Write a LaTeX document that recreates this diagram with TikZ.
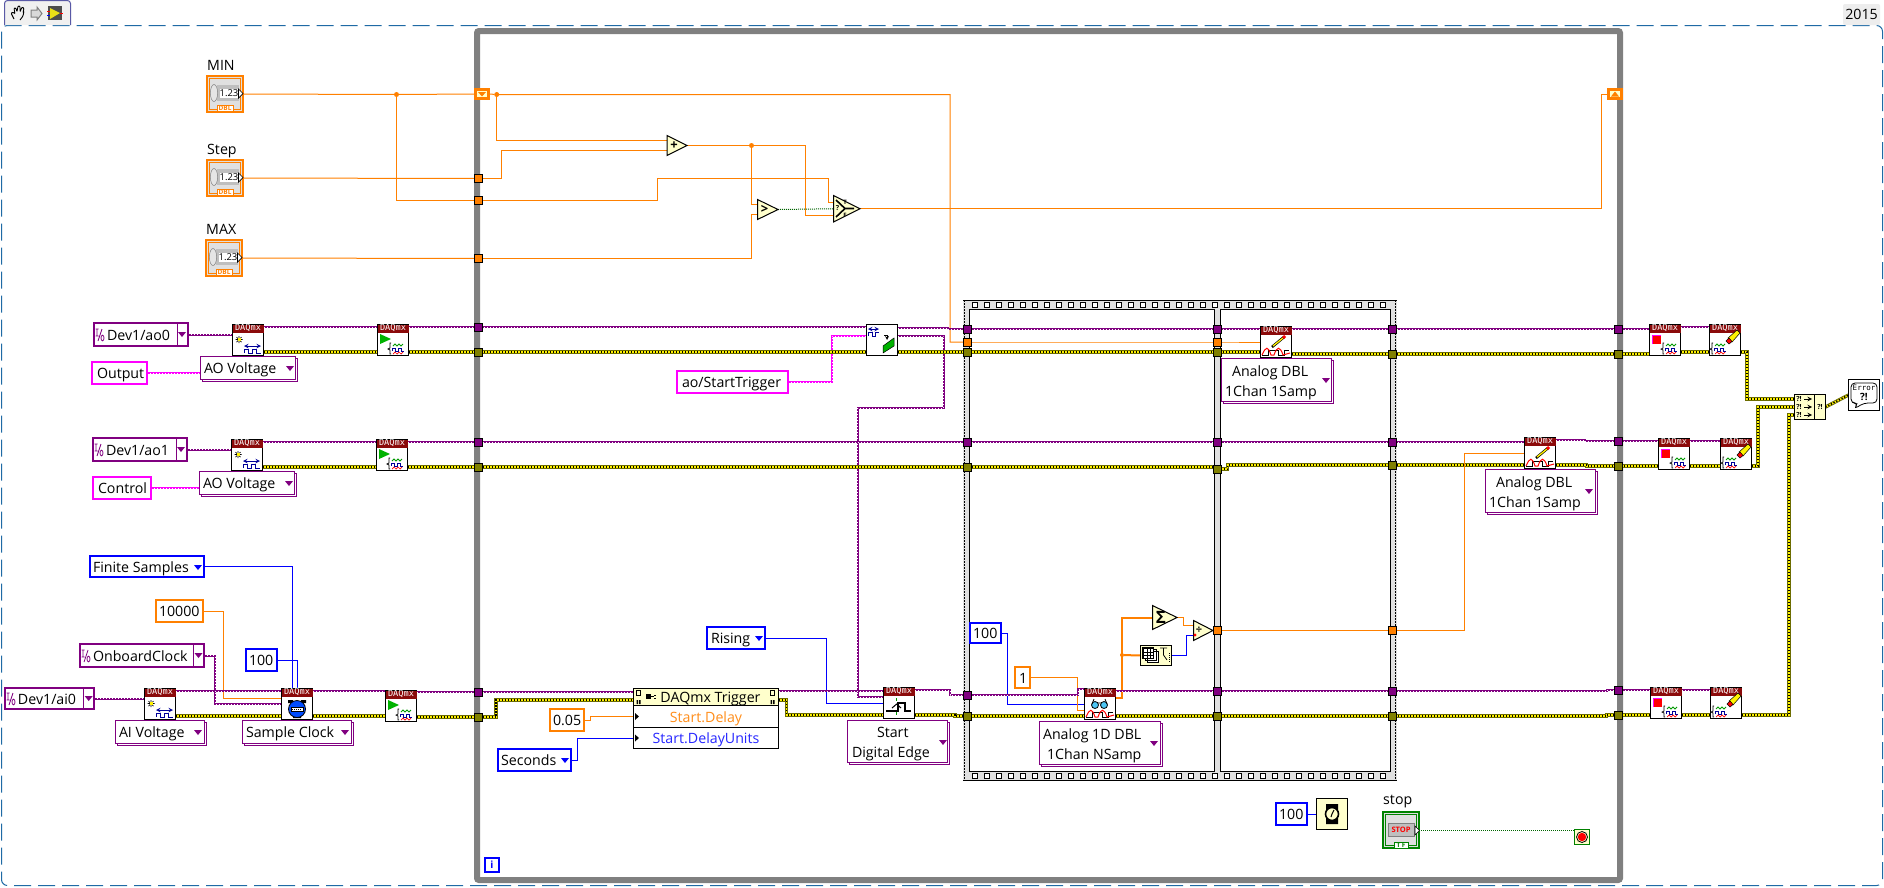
\documentclass[tikz,border=0pt]{standalone}
\usepackage{fontspec}
\setmainfont{Open Sans}
\newfontfamily\daqfam{DejaVu Sans Mono}
\usetikzlibrary{calc}
\pgfdeclarelayer{st}\pgfdeclarelayer{wr}\pgfsetlayers{st,wr,main}
\definecolor{wor}{HTML}{FF8000}\definecolor{wbl}{HTML}{0000FF}\definecolor{wvi}{HTML}{800080}
\definecolor{wpk}{HTML}{FF00FF}\definecolor{wol}{HTML}{808000}\definecolor{wgr}{HTML}{006400}
\definecolor{frm}{HTML}{1F6AA5}\definecolor{lpg}{HTML}{808080}\definecolor{daq}{HTML}{8B0A0A}
\definecolor{pale}{HTML}{FFFFCC}\definecolor{sgr}{HTML}{E0E0E0}
\tikzset{
 wdbl/.style={draw=wor,line width=1pt},
 wdblt/.style={draw=wor,line width=2pt},
 wblue/.style={draw=wbl,line width=1pt},
 wtask/.style={draw=wvi,line width=2pt,postaction={draw=white,line width=.7pt,dash pattern=on 1pt off 2pt}},
 wpink/.style={draw=wpk,line width=2pt,postaction={draw=white,line width=.7pt,dash pattern=on 1pt off 2pt}},
 werr/.style={draw=wol!85!black,line width=3.4pt,line join=miter,postaction={draw=yellow,line width=1.6pt},postaction={draw=black,line width=1.6pt,dash pattern=on 1.3pt off 1.7pt}},
 wbool/.style={draw=wgr,line width=1pt,dash pattern=on 1pt off 1pt},
 vi/.style={draw=black,line width=1pt,fill=white,minimum size=31pt,inner sep=0,outer sep=0},
 tun/.style={draw=black,line width=1pt,minimum size=8pt,inner sep=0,outer sep=0},
 tuo/.style={tun,fill=wor},tuv/.style={tun,fill=wvi},tue/.style={tun,fill=wol},
 jdot/.style={circle,fill=wor,minimum size=5pt,inner sep=0,outer sep=0},
 cfont/.style={font=\fontsize{14.2}{20}\selectfont,text=black},
 single/.style={text height=13pt,text depth=2pt},
 lab/.style={font=\fontsize{14.2}{18}\selectfont,anchor=base west,inner sep=0,text=black},
 prim/.style={draw=black,line width=1pt,fill=pale},
 sr/.style={draw=wor,line width=3pt,fill=pale,minimum width=13pt,minimum height=9pt,inner sep=0,outer sep=0},
}
% box constant: colour,name,x1,y1,x2,y2,textx,text
\newcommand\cst[8]{\pgfmathsetmacro\WW{#5-#3-2}\pgfmathsetmacro\HH{#6-#4-2}\pgfmathsetmacro\SS{#7-#3-1}%
 \node[draw=#1,fill=white,line width=2pt,cfont,single,inner sep=0,outer sep=0,minimum width=\WW pt,minimum height=\HH pt] (#2) at ({(#3+#5)/2},{(#4+#6)/2}) {\makebox[\WW pt][l]{\hspace*{\SS pt}#8}};}
% ring: name,x1,y1,x2,y2,textx,text
\newcommand\rng[7]{\pgfmathsetmacro\WW{#4-#2-3}\pgfmathsetmacro\HH{#5-#3-3}\pgfmathsetmacro\SS{#6-#2-.5}%
 \draw[wvi,fill=white,line width=1pt] ({#2+2.5},{#3+2.5}) rectangle ({#4-.5},{#5-.5});
 \node[draw=wvi,fill=white,line width=1pt,cfont,single,inner sep=0,outer sep=0,minimum width=\WW pt,minimum height=\HH pt] (#1) at ({(#2+#4)/2-1},{(#3+#5)/2-1}) {\makebox[\WW pt][l]{\hspace*{\SS pt}#7}};}
% two-line ring: name,x1,y1,x2,y2,tx1,l1,tx2,l2
\newcommand\rngt[9]{\pgfmathsetmacro\WW{#4-#2-3}\pgfmathsetmacro\HH{#5-#3-3}\pgfmathsetmacro\SS{#6-#2-.5}\pgfmathsetmacro\ST{#8-#2-.5}%
 \draw[wvi,fill=white,line width=1pt] ({#2+2.5},{#3+2.5}) rectangle ({#4-.5},{#5-.5});
 \node[draw=wvi,fill=white,line width=1pt,cfont,inner sep=0,outer sep=0,minimum width=\WW pt,minimum height=\HH pt] (#1) at ({(#2+#4)/2-1},{(#3+#5)/2-1}) {\parbox[c][\HH pt][c]{\WW pt}{\vspace*{5pt}\baselineskip=20pt\hspace*{\SS pt}#7\\\hspace*{\ST pt}#9}};}
\newcommand\ddn[3]{\fill[#3] ({#1-4},{#2-2}) -- ({#1+4},{#2-2}) -- ({#1},{#2+3}) -- cycle;}
\newcommand\sepv[3]{\draw[wvi,line width=1pt] (#1,#2) -- (#1,#3);}
\newcommand\iog[2]{\begin{scope}[shift={(#1,#2)}]\draw[wvi,line width=.8pt] (1,-6) -- (1,1) (-0.5,-6)--(2.5,-6) (-0.5,1)--(2.5,1) (6,-6)--(2,6);\draw[wvi,line width=.8pt] (6.5,3) ellipse (1.5pt and 2.8pt);\end{scope}}
% icon
\newcommand\iconn[3]{\node[vi] (#1) at ({#2+16},{#3+16}) {};
 \coordinate (#1ti) at ({#2},{#3+3}); \coordinate (#1to) at ({#2+32},{#3+3});
 \coordinate (#1ei) at ({#2},{#3+28}); \coordinate (#1eo) at ({#2+32},{#3+28});}
\newcommand\daqvi[4]{\iconn{#1}{#2}{#3}
 \fill[daq] ({#2+.5},{#3+.5}) rectangle ({#2+31.5},{#3+8.5});
 \node[text=white,font=\daqfam\fontsize{8.6}{9}\selectfont,inner sep=0] (#1h) at ({#2+16},{#3+4.3}) {DAQmx};
 \begin{scope}[shift={(#2,#3)}]#4\end{scope}}
\newcommand\gwave[1]{\begin{scope}[xshift=#1pt]
 \draw[black,line width=.7pt] (3,19)--(2,19)--(2,24)--(0,25)--(2,26)--(2,30)--(3,30);
 \draw[green!60!black,line width=.8pt] (5,22)--(7,20)--(9,22)--(11,20)--(13,22)--(15,20);
 \draw[blue!60!black,line width=1pt] (4,27)--(4,24)--(7,24)--(7,27)--(10,27)--(10,24)--(13,24)--(13,27)--(16,27);
 \draw[red,line width=.7pt] (5,30)--(7,28)--(9,30)--(11,28)--(13,30)--(15,28);\end{scope}}
\newcommand\gcreate{\draw[black,line width=.7pt] (3.5,15.5)--(10.5,15.5) (7,12)--(7,19) (4.5,13)--(9.5,18) (4.5,18)--(9.5,13);\fill[yellow] (5.5,14) rectangle (8.5,17);
 \draw[blue!60!black,line width=1pt,<->,>=stealth] (12,22)--(29,22);
 \draw[blue!60!black,line width=1pt] (12,29)--(12,25)--(16,25)--(16,29)--(20,29)--(20,25)--(24,25)--(24,29)--(29,29);}
\newcommand\gstart{\fill[green!70!black] (3,10)--(3,20)--(14,15)--cycle;\gwave{11}}
\newcommand\gstop{\fill[wpk] (3,11) rectangle (12,20);\fill[red] (4,12) rectangle (12,20);\gwave{12}}
\newcommand\gclear{\draw[black,line width=.5pt,fill=yellow] (19,14)--(28,6)--(31,9)--(23,18)--cycle;\draw[black,line width=.5pt,fill=red] (17,17)--(20,14)--(23,17.5)--(20,20)--cycle;\gwave{1}}
\newcommand\gdata{\draw[black,line width=1pt] (2,29)--(8,29)--(8,24)--(18,24)--(18,29)--(24,29)--(24,24)--(29,24);\draw[red,line width=1pt] (2,29) .. controls (6,20) and (8,20) .. (11,29) -- (14,29) .. controls (17,20) and (20,20) .. (23,29) -- (30,27);}
\newcommand\gwrite{\draw[black,line width=2.6pt] (12,21)--(24,11);\draw[yellow,line width=1.3pt] (13,20)--(23,12);\fill[red] (22,11)--(24,9)--(26,11)--(24,13)--cycle;\gdata}
\newcommand\gread{\draw[black,line width=.8pt,fill=cyan!70] (11,17) circle (3.5pt) (20,17) circle (3.5pt);\draw[black,line width=.8pt] (14,15)--(17,15) (8,16)--(10,11) (23,16)--(21,11);\gdata}
\newcommand\gtime{\fill[black] (7,12) rectangle (12,15) (20,12) rectangle (25,15) (12,27) rectangle (20,30);\fill[blue!70!cyan] (16,21) circle (8.5pt);\draw[black,line width=.8pt] (16,21) circle (8.5pt);\draw[black,fill=white,line width=1pt] (10,19) rectangle (22,23);\draw[black,line width=.8pt,dash pattern=on 1pt off 1pt] (11,21)--(21,21);}
\newcommand\gtrig{\draw[green!60!black,line width=1pt] (13.7,11)--(13.7,14) (13.7,25)--(13.7,28);\draw[black,line width=1.6pt] (3,24)--(15,24)--(15,16)--(22,16)--(22,24)--(28,24);\draw[black,line width=1pt] (9,21)--(13.7,17)--(18,21);}
\newcommand\gexport{\draw[blue!60!black,line width=1pt] (2,12)--(2,8)--(6,8)--(6,12)--(9,12)--(9,8)--(13,8);\draw[blue!60!black,line width=1pt,<->,>=stealth] (2,5)--(13,5);\draw[black,line width=.8pt,->,>=stealth] (18,11)--(21,11)--(21,16);\fill[green!70!black] (17,22)--(28,14)--(28,22)--(17,29)--cycle;\draw[black,line width=.5pt] (17,22)--(28,14)--(28,22)--(17,29)--cycle;}
% primitive triangle: name,x1,y1,x2,y2,glyph
\newcommand\tri[6]{\draw[prim] (#2,#3)--(#4,{(#3+#5)/2})--(#2,#5)--cycle;
 \coordinate (#1a) at (#2,{#3+(#5-#3)/4}); \coordinate (#1b) at (#2,{#3+3*(#5-#3)/4}); \coordinate (#1m) at (#2,{(#3+#5)/2}); \coordinate (#1o) at (#4,{(#3+#5)/2});
 \node[inner sep=0,text=black,font=\fontsize{13}{14}\selectfont\bfseries] (#1) at ({#2+(#4-#2)*.35},{(#3+#5)/2}) {#6};}
\newcommand\numctl[3]{\node[draw=wor,line width=2pt,fill=sgr,minimum size=36pt,inner sep=0,outer sep=0] (#1) at ({#2+19},{#3+19}) {};
 \begin{scope}[shift={(#2,#3)}]
 \draw[wor,line width=1pt] (3.5,3.5) rectangle (34.5,34.5);
 \fill[gray!50] (11,10) rectangle (33,26);
 \draw[gray,line width=.5pt,fill=gray!20] (8,18) ellipse (3.6pt and 8.5pt);
 \fill[white] (14,14) rectangle (32,23);
 \node[inner sep=0,text=black,font=\fontsize{9.5}{10}\selectfont] (#1n) at (23,18.5) {1.23};
 \draw[black,fill=white,line width=.7pt] (32.5,14)--(37,18.5)--(32.5,23)--cycle;
 \draw[wor,fill=white,line width=1pt] (11,30) rectangle (27,36);
 \node[inner sep=0,text=wor,font=\fontsize{6.5}{7}\selectfont\bfseries] (#1d) at (19,33) {DBL};
 \end{scope}}
\begin{document}
\begin{tikzpicture}[x=1pt,y=-1pt]
\useasboundingbox (0,0) rectangle (1884,887);
\begin{pgfonlayer}{st}
\fill[white] (0,0) rectangle (1884,887);
% diagram-disable frame
\draw[frm,line width=1pt,rounded corners=6pt,dash pattern=on 17pt off 7pt] (1.5,25.5) rectangle (1882.5,885.5);
% palette tab
\draw[gray!70!blue,fill=gray!12,line width=1pt,rounded corners=3pt] (4.5,25) -- (4.5,.5) -- (70.5,.5) -- (70.5,25);
\node[fill=gray!14,inner sep=0,minimum width=37pt,minimum height=21pt,rounded corners=2pt,text=black,font=\fontsize{14.2}{16}\selectfont] (ver) at (1861.5,14.5) {2015};
% loop
\node[draw=lpg,line width=6pt,rounded corners=2pt,inner sep=0,outer sep=0,minimum width=1143pt,minimum height=849pt] (loop) at (1048.5,455.5) {};
% sequence
\fill[sgr] (963,300) rectangle (1397,781);
\draw[black,line width=1pt] (963,300.5) -- (1397,300.5) (963,780.5) -- (1397,780.5);
\draw[black,line width=1.5pt,dash pattern=on 1.5pt off 1.5pt] (964.5,300) -- (964.5,781) (1395.5,300) -- (1395.5,781);
\foreach \xx in {975,987,...,1391}{
 \draw[black,fill=white,line width=1pt] (\xx-2.5,302.5) rectangle (\xx+2.5,307.5);
 \draw[black,fill=white,line width=1pt] (\xx-2.5,773.5) rectangle (\xx+2.5,778.5);}
\node[draw=black,fill=white,line width=1pt,minimum width=245pt,minimum height=462pt,inner sep=0,outer sep=0] (fr1) at (1092,540.5) {};
\node[draw=black,fill=white,line width=1pt,minimum width=170pt,minimum height=462pt,inner sep=0,outer sep=0] (fr2) at (1305.5,540.5) {};
\end{pgfonlayer}
% palette glyphs
\draw[black,line width=.9pt,rounded corners=1pt] (14,19)--(11,13)--(13,12)--(15,14)--(14,8)--(16,8)--(17,12)--(18,6)--(20,6)--(20,12)--(22,7)--(24,8)--(23,13)--(24,11)--(23,16)--(20,20);
\draw[gray,fill=gray!30,line width=1pt] (31,10)--(37,10)--(37,7)--(42,13.5)--(37,20)--(37,17)--(31,17)--cycle;
\fill[gray!60!black] (48,6) rectangle (62,20);
\fill[yellow!90!black] (50,8)--(60,13)--(50,19)--cycle;
\draw[red,line width=.7pt] (47,11)--(50,11) (60,13)--(63,13);\draw[blue,line width=.7pt] (47,15)--(50,15);
% controls
\numctl{cmin}{206}{75}\numctl{cstep}{206}{159}\numctl{cmax}{205}{239}
\node[lab] (lmin) at (207,70) {MIN};
\node[lab] (lstep) at (207,154) {Step};
\node[lab] (lmax) at (206,234) {MAX};
% row 1
\cst{wvi}{dev0}{93}{322}{189}{347}{107}{Dev1/ao0}\sepv{177.5}{323}{346}\ddn{182}{334}{wvi}\iog{96}{335}
\cst{wpk}{outc}{91}{361}{148}{385}{97}{Output}
\rng{aov1}{200}{356}{298}{382}{204}{AO Voltage}\ddn{290}{368}{wvi}
\daqvi{cr1}{232}{324}{\gcreate}\daqvi{sr1}{377}{324}{\gstart}
% row 2
\cst{wvi}{dev1}{92}{437}{188}{462}{106}{Dev1/ao1}\sepv{176.5}{438}{461}\ddn{181}{449}{wvi}\iog{95}{450}
\cst{wpk}{ctlc}{92}{476}{152}{500}{98}{Control}
\rng{aov2}{199}{471}{297}{497}{203}{AO Voltage}\ddn{289}{483}{wvi}
\daqvi{cr2}{231}{439}{\gcreate}\daqvi{sr2}{376}{439}{\gstart}
% row 3
\cst{wbl}{finc}{89}{555}{205}{578}{93}{Finite Samples}\ddn{198}{567}{wbl}
\cst{wor}{rate}{155}{599}{204}{623}{159}{10000}
\cst{wvi}{onbc}{79}{643}{205}{668}{93}{OnboardClock}\sepv{193.5}{644}{667}\ddn{198.5}{655}{wvi}\iog{82}{656}
\cst{wbl}{samp}{245}{648}{278}{672}{249}{100}
\cst{wvi}{dev2}{4}{687}{95}{710}{18}{Dev1/ai0}\sepv{83.5}{688}{709}\ddn{88.7}{698}{wvi}\iog{7}{699}
\rng{aiv}{115}{720}{207}{746}{119}{AI Voltage}\ddn{198}{732}{wvi}
\rng{scl}{242}{720}{354}{746}{246}{Sample Clock}\ddn{345}{732}{wvi}
\daqvi{cr3}{144}{688}{\gcreate}\daqvi{tm3}{281}{688}{\gtime}\daqvi{sr3}{385}{690}{\gstart}
% loop tunnels left
\node[sr] (srl) at (482,94) {};\fill[wor] (478,92)--(486,92)--(482,96.5)--cycle;
\node[sr] (srr) at (1615,94) {};\fill[wor] (1611,96.5)--(1619,96.5)--(1615,91.5)--cycle;
\node[tuo] (lts) at (478.5,178.5) {};\node[tuo] (lto) at (478.5,200.5) {};\node[tuo] (ltm) at (478.5,258.5) {};
\node[tuv] (lt1t) at (478.5,327) {};\node[tue] (lt1e) at (478.5,352) {};
\node[tuv] (lt2t) at (478.5,442) {};\node[tue] (lt2e) at (478.5,467) {};
\node[tuv] (lt3t) at (478.5,692) {};\node[tue] (lt3e) at (478.5,717) {};
% right tunnels of the loop
\node[tuv] (rt1t) at (1618.5,329) {};\node[tue] (rt1e) at (1618.5,354) {};
\node[tuv] (rt2t) at (1618.5,441) {};\node[tue] (rt2e) at (1618.5,466) {};
\node[tuv] (rt3t) at (1618.5,690) {};\node[tue] (rt3e) at (1618.5,715) {};
% sequence tunnels
\node[tuv] (s1) at (967.5,329) {};\node[tuo] (s2) at (967.5,342) {};\node[tue] (s3) at (967.5,352) {};
\node[tuv] (s4) at (967.5,442) {};\node[tue] (s5) at (967.5,467) {};\node[tuv] (s6) at (967.5,695) {};\node[tue] (s7) at (967.5,716) {};
\node[tuv] (m1) at (1217.5,329) {};\node[tuo] (m2) at (1217.5,342) {};\node[tue] (m3) at (1217.5,352) {};
\node[tuv] (m4) at (1217.5,442) {};\node[tue] (m5) at (1217.5,469) {};\node[tuv] (m6) at (1217.5,691) {};\node[tue] (m7) at (1217.5,716) {};\node[tuo] (m8) at (1217.5,630.5) {};
\node[tuv] (r1) at (1392.5,329) {};\node[tue] (r2) at (1392.5,354) {};\node[tuv] (r4) at (1392.5,442) {};\node[tue] (r5) at (1392.5,465) {};
\node[tuv] (r6) at (1392.5,691) {};\node[tue] (r7) at (1392.5,716) {};\node[tuo] (r8) at (1392.5,630.5) {};
% arithmetic
\tri{add}{667}{135.5}{687}{155.5}{+}
\tri{gtr}{757.5}{199.5}{778}{219.5}{>}
\tri{sel}{833.5}{195.5}{860}{222}{}
\begin{scope}[shift={(833,195)}]\draw[black,line width=1.6pt] (3,5)--(12,13.5)--(3,22) (12,13.5)--(21,13.5);
\node[inner sep=0,text=black,font=\fontsize{6}{7}\selectfont\bfseries] (selt) at (12,7) {T};
\node[inner sep=0,text=black,font=\fontsize{6}{7}\selectfont\bfseries] (self) at (12,20) {F};
\node[inner sep=0,text=black,font=\fontsize{7}{7}\selectfont\bfseries] (selq) at (4.5,13.5) {?};\end{scope}
\node[jdot] (j1) at (396.5,94.5) {};\node[jdot] (j2) at (496.7,94.5) {};\node[jdot] (j3) at (751.5,145.5) {};\node[jdot,minimum size=4pt] (j4) at (1122,655) {};
% export VI
\iconn{ex}{866}{324}\begin{scope}[shift={(866,324)}]\gexport\end{scope}
\cst{wpk}{aost}{676}{370}{789}{394}{682}{ao/StartTrigger}
% property node
\node[draw=black,fill=pale,line width=1pt,minimum width=145pt,minimum height=18pt,inner sep=0,outer sep=0,cfont,single] (pnh) at (706,697) {\hspace*{9pt}DAQmx Trigger};
\node[draw=black,fill=white,line width=1pt,minimum width=145pt,minimum height=21.5pt,inner sep=0,outer sep=0,cfont,single,text=wor!90!white] (pn1) at (706,716.5) {Start.Delay};
\node[draw=black,fill=white,line width=1pt,minimum width=145pt,minimum height=21.5pt,inner sep=0,outer sep=0,cfont,single,text=blue!85!white] (pn2) at (706,738) {Start.DelayUnits};
\fill[black] (635,713)--(639,716.5)--(635,720)--cycle (635,734.5)--(639,738)--(635,741.5)--cycle;
\draw[black,line width=1pt] (647,696.5)--(654,696.5) (654,695)--(656,695) (654,698)--(656,698);\fill[black] (646,694) rectangle (651,699);
\foreach \xx in {636.5,770.5}{\draw[black,line width=.7pt] (\xx,690.5) rectangle (\xx+4,695.5);\fill[black] (\xx,700) rectangle (\xx+1.5,704) (\xx+2.5,700) rectangle (\xx+4,704);}
\cst{wor}{dly}{549}{708}{585}{732}{553}{0.05}
\cst{wbl}{secs}{497}{748}{572}{772}{501}{Seconds}\ddn{565}{760}{wbl}
\cst{wbl}{rise}{706}{626}{766}{650}{711}{Rising}\ddn{759}{638}{wbl}
\daqvi{trg}{883}{687}{\gtrig}
\rngt{sde}{847}{720}{950}{765}{877}{Start}{852}{Digital Edge}\ddn{943}{742}{wvi}
\node[draw=wbl,line width=2pt,fill=white,minimum size=14pt,inner sep=0,text=wbl,font=\fontsize{10}{11}\selectfont\bfseries] (iter) at (492,865) {i};
% frame 2 write
\daqvi{wr1}{1260}{326}{\gwrite}
\rngt{adb1}{1221}{358}{1334}{404}{1232}{Analog DBL}{1225}{1Chan 1Samp}\ddn{1326}{380}{wvi}
% frame 1
\cst{wbl}{cnt}{969}{622}{1002}{644}{973}{100}
\cst{wor}{one}{1014}{666}{1031}{689}{1019}{1}
\daqvi{rd}{1084}{688}{\gread}
\rngt{a1d}{1039}{721}{1163}{767}{1043}{Analog 1D DBL}{1047}{1Chan NSamp}\ddn{1154}{743}{wvi}
\tri{sum}{1152.5}{605.5}{1177}{629.5}{}
\node[inner sep=0,text=black,font=\fontsize{17}{18}\selectfont\bfseries] (sumg) at (1161,617) {Σ};
\tri{dvd}{1193.5}{620.5}{1213}{640.5}{}
\node[inner sep=0,text=black,font=\fontsize{11}{12}\selectfont\bfseries] (dvdg) at (1199,630.5) {÷};
\node[draw=black,fill=pale,line width=1pt,minimum width=31pt,minimum height=20pt,inner sep=0,outer sep=0] (asz) at (1156,655.5) {};
\begin{scope}[shift={(1140,645)}]\draw[black,line width=.6pt,fill=white] (7,6) rectangle (18,17) (5,4) rectangle (16,15);\draw[black,line width=.7pt,fill=white,step=3.5pt] (2,2) grid (13,13) (2,2) rectangle (13,13);\draw[black,line width=.8pt] (20,3)--(27,3) (23.5,3)--(23.5,10)--(27,15);\draw[black,line width=.8pt,dash pattern=on 1pt off 1pt] (29,8)--(29,17);\end{scope}
\fill[red] (1195,635) circle (1.6pt);
% wait
\cst{wbl}{wms}{1275}{802}{1308}{826}{1279}{100}
\node[draw=black,fill=pale,line width=1pt,minimum size=31pt,inner sep=0,outer sep=0] (wait) at (1332,814) {};
\fill[black] (1326,804) rectangle (1338,810) (1326,818) rectangle (1338,824);
\draw[black,line width=1.6pt,fill=pale] (1332,814) circle (6.5pt);\draw[black,line width=1pt] (1332,814)--(1334,810) (1332,814)--(1331,817);
% stop
\node[lab] (lstop) at (1383,804) {stop};
\node[draw=wgr!80!green,line width=2pt,fill=gray!25,minimum size=36pt,inner sep=0,outer sep=0] (stopc) at (1401,830) {};
\draw[wgr!80!green,line width=1pt] (1385.5,814.5) rectangle (1416.5,845.5);
\node[draw=gray,line width=1pt,fill=gray!50,minimum width=26pt,minimum height=13pt,inner sep=0,text=red,font=\fontsize{7.5}{8}\selectfont\bfseries] (stopb) at (1401,830) {STOP};
\fill[white,draw=black,line width=.6pt] (1415,826)--(1419.5,830.5)--(1415,835)--cycle;
\node[draw=wgr!80!green,fill=white,line width=1pt,minimum width=14pt,minimum height=6pt,inner sep=0,text=wgr!80!green,font=\fontsize{6.5}{6.5}\selectfont\bfseries] (stoptf) at (1401,845) {T F};
\node[draw=green!50!black,fill=pale,line width=1pt,minimum size=15pt,inner sep=0,outer sep=0] (cond) at (1582,837) {};
\draw[black,line width=.8pt] (1582,837) circle (5.5pt);\fill[red] (1582,837) circle (4.2pt);
% write 2
\daqvi{wr2}{1524}{437}{\gwrite}
\rngt{adb2}{1485}{469}{1598}{515}{1496}{Analog DBL}{1489}{1Chan 1Samp}\ddn{1589}{491}{wvi}
% stop and clear
\daqvi{st1}{1649}{324}{\gstop}\daqvi{cl1}{1709}{324}{\gclear}
\daqvi{st2}{1658}{438}{\gstop}\daqvi{cl2}{1720}{438}{\gclear}
\daqvi{st3}{1650}{687}{\gstop}\daqvi{cl3}{1710}{687}{\gclear}
% merge
\node[draw=black,fill=pale,line width=1pt,minimum width=31pt,minimum height=25pt,inner sep=0,outer sep=0] (mrg) at (1810,407) {};
\draw[black,line width=1pt] (1814.5,394.5)--(1814.5,419.5);
\foreach \yy/\nn in {399/a,407/b,415/c}{\node[inner sep=0,text=black,font=\fontsize{7}{7}\selectfont\bfseries] (mq\nn) at (1799,\yy) {?!};\draw[black,line width=1pt,->,>=stealth] (1804,\yy)--(1812,\yy);}
\node[inner sep=0,text=black,font=\fontsize{7}{7}\selectfont\bfseries] (mqo) at (1820,407) {?!};
% error handler
\node[draw=black,fill=white,line width=1pt,minimum size=31pt,inner sep=0,outer sep=0] (ehd) at (1864,395) {};
\draw[black,line width=.8pt,rounded corners=4pt] (1851,383)--(1851,403)--(1858,403)--(1854,409)--(1864,403)--(1877,403)--(1877,383)--cycle;
\node[inner sep=0,text=black,font=\daqfam\fontsize{7.5}{8}\selectfont] (ehdt) at (1864,388) {Error};
\node[inner sep=0,text=black,font=\fontsize{10}{10}\selectfont\bfseries] (ehdq) at (1864,397) {?!};
% ------------ wires
\begin{pgfonlayer}{wr}
\draw[wdbl] (cmin.east) -- (j1) -- (srl.west);
\draw[wdbl] (j1) |- (lto.center);
\draw[wdbl] (cstep.east) -- (lts.center);
\draw[wdbl] (cmax.east) -- (ltm.center);
\draw[wdbl] (srl.east) -- (j2) -- ++(453.3,0) |- (s2.center);
\draw[wdbl] (j2) |- (adda);
\draw[wdbl] (lts.center) -- ++(23.2,0) |- (addb);
\draw[wdbl] (addo) -- (j3) -- ++(53.5,0) |- (selb);
\draw[wdbl] (j3) |- (gtra);
\draw[wdbl] (lto.center) -- ++(178.5,0) -- ++(0,-22.5) -- ++(171,0) |- (sela);
\draw[wdbl] (ltm.center) -- ++(273,0) |- (gtrb);
\draw[wbool] (gtro) -- (selm);
\draw[wdbl] (selo) -- ++(741,0) |- (srr.west);
% export branch
\draw[wpink] (aost.east) -- ++(44,0) |- ([yshift=4pt]ex.west);
\draw[wtask] ([yshift=4pt]ex.east) -- ++(46,0) -- ++(0,72) -- ++(-86,0) |- ([yshift=6pt]trg.west);
% row 1
\draw[wtask] (dev0.east) -- (cr1.west |- dev0.east);
\draw[wpink] (outc.east) -- (aov1.west |- outc.east);
\draw[wtask] (cr1to) -- (sr1ti);\draw[wtask] (sr1to) -- (lt1t.center) -- (exti);
\draw[werr] (cr1eo) -- (sr1ei);\draw[werr] (sr1eo) -- (lt1e.center) -- (exei);
\draw[wtask] ([yshift=12pt]ex.east) -- ++(50,0) |- (s1.center);
\draw[werr] (exeo) -- (s3.center);
\draw[wtask] (s1.center) -- (m1.center) -- (wr1ti);
\draw[wdbl] (s2.center) -- (m2.center) -- (wr1.west);
\draw[werr] (s3.center) -- (m3.center) -- ([yshift=-10pt]wr1.west);
\draw[wtask] (wr1to) -- (r1.center) -- (rt1t.center) -- ([yshift=11pt]st1.west);
\draw[werr] (wr1eo) -- (r2.center) -- (rt1e.center) -- ([yshift=-14pt]st1.west);
\draw[wtask] (st1to) -- (cl1ti);
\draw[werr] (st1eo) -- (cl1ei);
\draw[werr] (cl1eo) -- ++(6,0) |- ([yshift=8pt]mrg.west);
% row 2
\draw[wtask] (dev1.east) -- (cr2.west |- dev1.east);
\draw[wpink] (ctlc.east) -- (aov2.west |- ctlc.east);
\draw[wtask] (cr2to) -- (sr2ti);\draw[wtask] (sr2to) -- (lt2t.center) -- (s4.center) -- (m4.center) -- (r4.center) -- ([yshift=11pt]wr2.west);
\draw[werr] (cr2eo) -- (sr2ei);\draw[werr] (sr2eo) -- (lt2e.center) -- (s5.center) -- (s5.center -| m5.center);
\draw[werr] (m5.center) -- ++(10,0) |- (r5.center) -- ([yshift=-12pt]wr2.west);
\draw[wtask] ([yshift=13pt]wr2.east) -- ++(29,0) |- (rt2t.center) -- (st2ti);
\draw[werr] ([yshift=-12pt]wr2.east) -- ++(31,0) |- (rt2e.center) -- (st2ei);
\draw[wtask] (st2to) -- (cl2ti);
\draw[werr] (st2eo) -- (cl2ei);
\draw[werr] (cl2eo) -- ++(6,0) |- (mrg.west);
% row 3
\draw[wblue] (finc.east) -| ([xshift=-5pt]tm3.north);
\draw[wdbl] (rate.east) -- ++(20,0) |- ([yshift=6pt]tm3.west);
\draw[wtask] (onbc.east) -- ++(11,0) |- ([yshift=0pt]tm3.west);
\draw[wblue] (samp.east) -| ([xshift=0pt]tm3.north);
\draw[wtask] (dev2.east) -- (cr3.west |- dev2.east);
\draw[wtask] (cr3to) -- (tm3ti);\draw[werr] (cr3eo) -- (tm3ei);
\draw[wtask] (tm3to) -- (sr3.west |- tm3to);\draw[werr] (tm3eo) -- (sr3.west |- tm3eo);
\draw[wtask] (sr3.east |- lt3t.center) -- (lt3t.center) -- (lt3t.center -| pnh.west);
\draw[werr] (sr3.east |- lt3e.center) -- (lt3e.center) -- ++(17.5,0) |- ([yshift=-3pt]pnh.west);
\draw[wdbl] (dly.east) -- ++(6,0) |- (pn1.west);
\draw[wblue] (secs.east) -- ++(6,0) |- (pn2.west);
\draw[wblue] (rise.east) -- ++(61,0) |- ([yshift=0pt]trg.west);
\draw[wtask] ([yshift=6pt]pnh.east) -- ([yshift=6pt]pnh.east -| trg.west);
\draw[werr] ([yshift=-3pt]pnh.east) -- ++(8,0) |- (trgei);
\draw[wtask] (trgto) -- ++(35,0) |- (s6.center);
\draw[werr] (trgeo) -- ++(40,0) |- (s7.center);
\draw[wblue] (cnt.east) -- ++(6,0) |- ([yshift=0pt]rd.west);
\draw[wdbl] (one.east) -- ++(47,0) |- ([yshift=-6pt]rd.west);
\draw[wtask] (s6.center) -- ++(110.5,0) |- ([yshift=15pt]rd.west);
\draw[werr] (s7.center) -- (rdei);
\draw[wdblt] ([yshift=6pt]rd.east) -- ++(6,0) |- (summ);
\draw[wdblt] (j4) -- (asz.west);
\draw[wdbl] (sumo) -- ++(6,0) |- (dvda);
\draw[wblue] (asz.east) -- ++(15,0) |- (dvdb);
\draw[wdbl] (dvdo) -- (m8.center) -- (r8.center) -- ++(71.5,0) |- (wr2.west);
\draw[wtask] (rdto) -- (m6.center) -- (r6.center) -- ++(214,0) |- (rt3t.center) -- ([yshift=13pt]st3.west);
\draw[werr] (rdeo) -- (m7.center) -- (r7.center) -- ++(214,0) |- (rt3e.center) -- (st3ei);
\draw[wtask] (st3to) -- (cl3ti);
\draw[werr] (st3eo) -- (cl3ei);
\draw[werr] (cl3eo) -- ++(47,0) |- ([yshift=-8pt]mrg.west);
\draw[werr] (mrg.east) -- (ehd.west);
\draw[wblue] (wms.east) -- (wait.west);
\draw[wbool] (stopc.east) -- (cond.west |- stopc.east);
\end{pgfonlayer}
\end{tikzpicture}
\end{document}
